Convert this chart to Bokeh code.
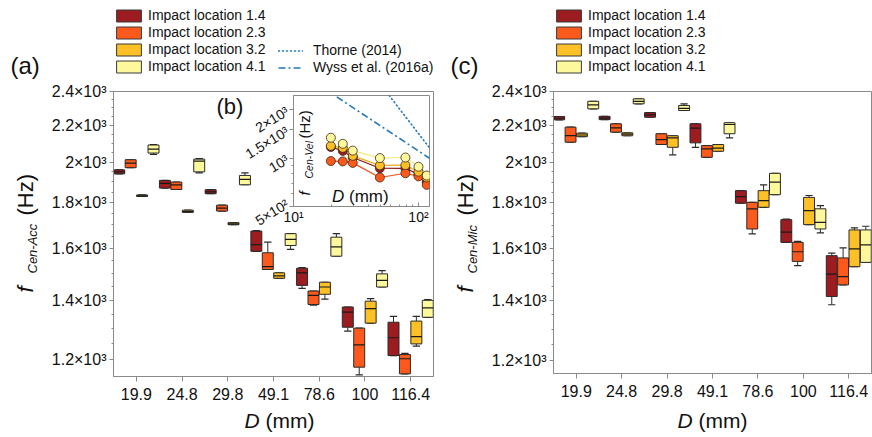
import math
from bokeh.plotting import figure
from bokeh.models import (ColumnDataSource, FixedTicker, Label, Legend, LegendItem,
                          GridBox, Range1d)
from bokeh.embed import file_html
from bokeh.resources import INLINE

FONT = "Liberation Sans"
AXIS_GRAY = "#8a8a8a"
TEXT = "#111111"
BLUE = "#2279b5"
NAN = float("nan")

# ---------------- data ----------------
D_LABELS = ["19.9", "24.8", "29.8", "49.1", "78.6", "100", "116.4"]
D_VALUES = [19.9, 24.8, 29.8, 49.1, 78.6, 100.0, 116.4]
LOCATIONS = ["Impact location 1.4", "Impact location 2.3",
             "Impact location 3.2", "Impact location 4.1"]
COLORS = ["#9c1c1f", "#fc5a1c", "#fdc026", "#fdf89c"]

Y_MAJOR = [1200, 1400, 1600, 1800, 2000, 2200, 2400]
Y_MAJOR_LABELS = ["1.2×10³", "1.4×10³", "1.6×10³", "1.8×10³", "2×10³", "2.2×10³", "2.4×10³"]
Y_MINOR = [1250, 1300, 1350, 1450, 1500, 1550, 1650, 1700, 1750, 1850, 1900, 1950,
           2050, 2100, 2150, 2250, 2300, 2350]

# (a) f_Cen-Acc (Hz): rows = impact locations 1.4, 2.3, 3.2, 4.1 ; columns = D
acc_lo = [[1940, 1870, 1843, 1588, 1443, 1292, 1213],
          [1971, 1863, 1762, 1515, 1382, 1154, 1157],
          [1830, 1756, 1701, 1481, 1403, 1319, 1243],
          [2040, 1945, 1886, 1596, 1568, 1448, 1339]]
acc_q1 = [[1940, 1870, 1843, 1588, 1454, 1305, 1213],
          [1971, 1863, 1762, 1515, 1384, 1177, 1157],
          [1830, 1756, 1701, 1481, 1421, 1319, 1250],
          [2047, 1950, 1886, 1612, 1568, 1448, 1339]]
acc_med = [[1950, 1893, 1852, 1616, 1502, 1357, 1270],
           [1994, 1885, 1775, 1526, 1417, 1247, 1203],
           [1833, 1760, 1705, 1490, 1448, 1369, 1274],
           [2068, 2005, 1912, 1638, 1606, 1473, 1372]]
acc_q3 = [[1960, 1907, 1862, 1673, 1520, 1375, 1322],
          [2012, 1899, 1789, 1582, 1433, 1302, 1216],
          [1837, 1766, 1710, 1502, 1466, 1396, 1326],
          [2090, 2015, 1932, 1662, 1647, 1498, 1399]]
acc_hi = [[1960, 1907, 1862, 1675, 1522, 1375, 1342],
          [2012, 1899, 1789, 1626, 1433, 1302, 1220],
          [1837, 1766, 1710, 1502, 1466, 1405, 1342],
          [2092, 2018, 1945, 1662, 1662, 1511, 1402]]

# (c) f_Cen-Mic (Hz)
mic_lo = [[2231, 2232, 2246, 2078, 1799, 1626, 1384],
          [2106, 2161, 2093, 2025, 1662, 1531, 1457],
          [2136, 2141, 2038, 2057, 1780, 1702, 1527],
          [2295, 2325, 2285, 2129, 1839, 1666, 1544]]
mic_q1 = [[2231, 2232, 2246, 2102, 1799, 1626, 1414],
          [2106, 2161, 2093, 2025, 1683, 1548, 1457],
          [2136, 2141, 2078, 2057, 1780, 1702, 1527],
          [2295, 2325, 2285, 2152, 1839, 1683, 1544]]
mic_med = [[2240, 2241, 2260, 2183, 1830, 1669, 1498],
           [2142, 2185, 2120, 2070, 1773, 1587, 1488],
           [2145, 2150, 2129, 2074, 1811, 1765, 1599],
           [2319, 2340, 2298, 2204, 1899, 1712, 1615]]
mic_q3 = [[2250, 2251, 2273, 2208, 1858, 1724, 1571],
          [2189, 2208, 2152, 2087, 1803, 1626, 1562],
          [2155, 2157, 2141, 2093, 1858, 1826, 1679],
          [2340, 2355, 2315, 2214, 1943, 1773, 1679]]
mic_hi = [[2250, 2251, 2273, 2208, 1858, 1726, 1581],
          [2189, 2208, 2152, 2087, 1803, 1630, 1603],
          [2155, 2157, 2141, 2093, 1886, 1835, 1688],
          [2340, 2355, 2325, 2214, 1943, 1788, 1695]]

# (b) inset f_Cen-Vel (Hz) vs D (mm)
vel_14 = [1175, 1110, 1010, 866, 864, 795, 709]
vel_23 = [960, 955, 935, 758, 806, 770, 682]
vel_32 = [1194, 1160, 1035, 902, 906, 824, 758]
vel_41 = [1342, 1230, 1115, 1002, 1010, 885, 780]
VEL = [vel_14, vel_23, vel_32, vel_41]
thorne_D = [58.3, 122.5]
thorne_f = [2460, 1160]
wyss_D = [22.2, 122.5]
wyss_f = [2410, 1000]

OFFSETS = [-0.375, -0.125, 0.125, 0.375]
BOX_W = 0.24
CAP_HALF = 0.08
THORNE_DASH = "1 3"
WYSS_DASH = "7 3 2 3"
PAGE_W, PAGE_H = 872, 437


def style(p):
    p.xgrid.visible = False
    p.ygrid.visible = False
    p.outline_line_color = AXIS_GRAY
    p.outline_line_width = 1
    p.background_fill_color = "white"
    for ax in (p.xaxis[0], p.yaxis[0]):
        ax.axis_line_color = AXIS_GRAY
        ax.major_tick_line_color = AXIS_GRAY
        ax.minor_tick_line_color = AXIS_GRAY
        ax.major_label_text_font = FONT
        ax.major_label_text_color = TEXT


def box_panel(width, left, right, bottom, y_lo, lo, q1, med, q3, hi):
    p = figure(width=width, height=PAGE_H, x_range=Range1d(0.5, 7.5),
               y_range=Range1d(y_lo, 2400), y_axis_type="log",
               output_backend="svg", toolbar_location=None, frame_align=False,
               min_border_left=left, min_border_right=right,
               min_border_top=91, min_border_bottom=bottom)
    style(p)
    xa, ya = p.xaxis[0], p.yaxis[0]
    xa.ticker = FixedTicker(ticks=list(range(1, 8)), minor_ticks=[])
    xa.major_label_overrides = {i + 1: lab for i, lab in enumerate(D_LABELS)}
    xa.major_tick_out = 5
    xa.major_tick_in = 0
    xa.minor_tick_out = 0
    xa.minor_tick_in = 0
    xa.major_label_standoff = 6
    xa.major_label_text_font_size = "16px"
    ya.ticker = FixedTicker(ticks=Y_MAJOR, minor_ticks=Y_MINOR)
    ya.major_label_overrides = dict(zip(Y_MAJOR, Y_MAJOR_LABELS))
    ya.major_tick_out = 4
    ya.major_tick_in = 0
    ya.minor_tick_out = 2
    ya.minor_tick_in = 0
    ya.major_label_standoff = 3
    ya.major_label_text_font_size = "16px"

    for i in range(4):
        xs = [k + 1 + OFFSETS[i] for k in range(7)]
        src = ColumnDataSource(dict(
            x=xs, xl=[x - CAP_HALF for x in xs], xr=[x + CAP_HALF for x in xs],
            bl=[x - BOX_W / 2 for x in xs], br=[x + BOX_W / 2 for x in xs],
            lo=lo[i], q1=q1[i], med=med[i], q3=q3[i], hi=hi[i]))
        p.segment(x0="x", y0="q3", x1="x", y1="hi", line_color="#2a2a2a", line_width=1, source=src)
        p.segment(x0="x", y0="lo", x1="x", y1="q1", line_color="#2a2a2a", line_width=1, source=src)
        p.segment(x0="xl", y0="hi", x1="xr", y1="hi", line_color="#2a2a2a", line_width=1.2, source=src)
        p.segment(x0="xl", y0="lo", x1="xr", y1="lo", line_color="#2a2a2a", line_width=1.2, source=src)
        p.vbar(x="x", width=BOX_W, bottom="q1", top="q3", fill_color=COLORS[i],
               line_color="#2a2a2a", line_width=1, source=src)
        p.segment(x0="bl", y0="med", x1="br", y1="med", line_color="#1a1a1a",
                  line_width=1.2, source=src)
    return p


# ---------------- panel (a): page x 0..440 ----------------
pa = box_panel(440, 113, 7, 61, 1149, acc_lo, acc_q1, acc_med, acc_q3, acc_hi)

# ---------------- panel (c): page x 440..872 ----------------
pc = box_panel(432, 113, 1, 64, 1159, mic_lo, mic_q1, mic_med, mic_q3, mic_hi)

# ---------------- inset (b): page x 215..432, y 90..228 ----------------
pb = figure(width=217, height=138, x_axis_type="log", y_axis_type="log",
            x_range=Range1d(10, 122.5), y_range=Range1d(500, 2460),
            output_backend="svg", toolbar_location=None, frame_align=False,
            min_border_left=78, min_border_right=3, min_border_top=5, min_border_bottom=22)
style(pb)
pb.border_fill_color = None
bx, by = pb.xaxis[0], pb.yaxis[0]
bx.ticker = FixedTicker(ticks=[10, 100], minor_ticks=[20, 30, 40, 50, 60, 70, 80, 90])
bx.major_label_overrides = {10: "10¹", 100: "10²"}
bx.major_tick_in = 4
bx.major_tick_out = 0
bx.minor_tick_in = 2
bx.minor_tick_out = 0
bx.major_label_standoff = 2
bx.major_label_text_font_size = "14px"
by.ticker = FixedTicker(ticks=[500, 1000, 1500, 2000], minor_ticks=[600, 700, 800, 900])
by.major_label_overrides = {500: "5×10²", 1000: "10³", 1500: "1.5×10³", 2000: "2×10³"}
by.major_label_orientation = 0.55
by.major_tick_out = 4
by.major_tick_in = 0
by.minor_tick_out = 2
by.minor_tick_in = 0
by.major_label_standoff = 2
by.major_label_text_font_size = "14px"

pb.line(thorne_D, thorne_f, line_color=BLUE, line_width=1.6, line_dash=THORNE_DASH, line_cap="round")
pb.line(wyss_D, wyss_f, line_color=BLUE, line_width=1.6, line_dash=WYSS_DASH)
LINE_COLORS = ["#8a1618", "#f0501a", "#e8ac1c", "#f2eb80"]
for i in range(4):
    pb.line(D_VALUES, VEL[i], line_color=LINE_COLORS[i], line_width=1.2)
for i in range(4):
    pb.scatter(D_VALUES, VEL[i], size=9, fill_color=COLORS[i], line_color="#3a2a1a", line_width=0.8)

# ---------------- transparent overlay for legends and free texts ----------------
po = figure(width=PAGE_W, height=PAGE_H, x_range=Range1d(0, PAGE_W), y_range=Range1d(0, PAGE_H),
            output_backend="svg", toolbar_location=None, frame_align=False,
            min_border=0, min_border_left=0, min_border_right=0,
            min_border_top=0, min_border_bottom=0,
            x_axis_location=None, y_axis_location=None)
po.grid.visible = False
po.background_fill_color = None
po.border_fill_color = None
po.outline_line_color = None


def txt(x, y, text, size, italic=False, angle=0.0):
    # x: left end of the text; y: its middle line (pixels from the page's top-left)
    po.add_layout(Label(x=x, y=PAGE_H - y, x_units="screen", y_units="screen",
                        text=text, text_font=FONT, text_font_size=f"{size}px",
                        text_font_style="italic" if italic else "normal",
                        text_color=TEXT, angle=angle, text_align="left",
                        text_baseline="middle"))


def vtxt(x_mid, y_start, text, size, italic=False):
    # rotated text running upward from y_start; x_mid is its middle line
    po.add_layout(Label(x=x_mid, y=PAGE_H - y_start, x_units="screen", y_units="screen",
                        text=text, text_font=FONT, text_font_size=f"{size}px",
                        text_font_style="italic" if italic else "normal",
                        text_color=TEXT, angle=math.pi / 2, text_align="left",
                        text_baseline="middle"))


def leg(items, x, y_bottom, gw, spacing, standoff):
    po.add_layout(Legend(items=items, location=(x, PAGE_H - y_bottom),
                         orientation="vertical", glyph_width=gw, glyph_height=15,
                         label_height=15, spacing=spacing, label_standoff=standoff,
                         padding=0, margin=0, border_line_color=None,
                         background_fill_alpha=0, label_text_font=FONT,
                         label_text_font_size="14px", label_text_color=TEXT))


# legend proxies (NaN data: nothing is drawn, only the legend swatches)
box_proxies = [po.vbar(x=[NAN], top=[NAN], bottom=[NAN], width=1, fill_color=COLORS[i],
                       line_color="#3a3a3a", line_width=1) for i in range(4)]
t_r = po.line(x=[NAN, NAN], y=[NAN, NAN], line_color=BLUE, line_width=1.6,
              line_dash=THORNE_DASH, line_cap="round")
w_r = po.line(x=[NAN, NAN], y=[NAN, NAN], line_color=BLUE, line_width=1.6, line_dash=WYSS_DASH)

for x0 in (113, 553):
    leg([LegendItem(label=LOCATIONS[i], renderers=[box_proxies[i]]) for i in range(4)],
        x0, 74, 31, 1, 4)
leg([LegendItem(label="Thorne (2014)", renderers=[t_r]),
     LegendItem(label="Wyss et al. (2016a)", renderers=[w_r])], 278, 75, 25, 1, 10)

txt(10, 64.5, "(a)", 24)
txt(216, 105.5, "(b)", 22)
txt(450, 64.5, "(c)", 24)
# y-axis titles
vtxt(24.5, 292, "f", 22, italic=True)
vtxt(32, 273, "Cen-Acc", 13, italic=True)
vtxt(24.5, 215, "(Hz)", 22)
vtxt(464.5, 292, "f", 22, italic=True)
vtxt(472, 273, "Cen-Mic", 13, italic=True)
vtxt(464.5, 215, "(Hz)", 22)
# x-axis titles
txt(244, 420, "D", 21, italic=True)
txt(265, 420, "(mm)", 21)
txt(677, 420, "D", 21, italic=True)
txt(698, 420, "(mm)", 21)
# inset titles
txt(331.5, 196, "D", 17, italic=True)
txt(348.5, 196, "(mm)", 17)
vtxt(303.5, 195, "f", 15, italic=True)
vtxt(308, 178, "Cen-Vel", 10.5, italic=True)
vtxt(303.5, 138, "(Hz)", 15)

# ---------------- layout ----------------
grid = GridBox(children=[(pa, 0, 0, 3, 3), (pb, 1, 1, 1, 1), (pc, 0, 3, 3, 1), (po, 0, 0, 3, 4)],
               rows=["90px", "138px", "209px"], cols=["215px", "217px", "8px", "432px"],
               spacing=0)

open("out.html", "w").write(file_html(grid, INLINE))
